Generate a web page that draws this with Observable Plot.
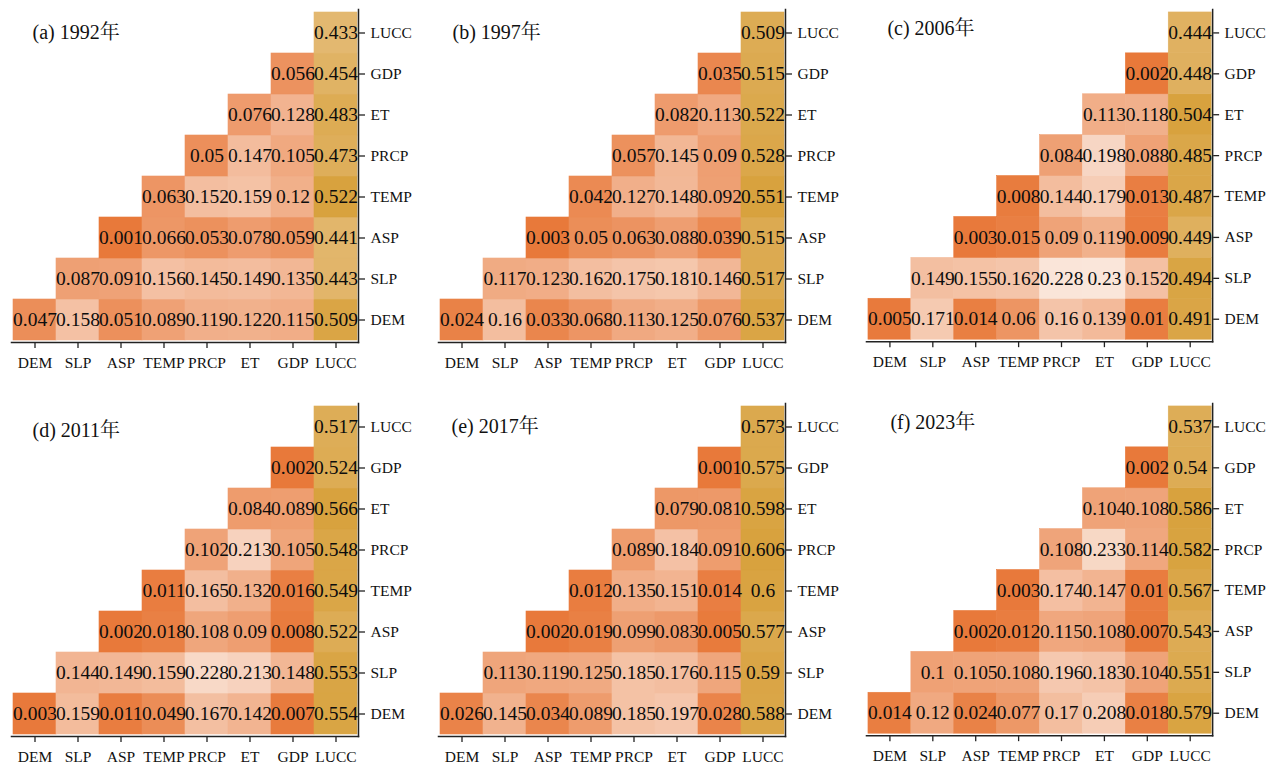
<!DOCTYPE html>
<html>
<head>
<meta charset="utf-8">
<script src="https://cdn.jsdelivr.net/npm/d3@7"></script>
<script src="https://cdn.jsdelivr.net/npm/@observablehq/plot@0.6"></script>
<style>
  body { margin: 0; background: #fff; }
  #wrap { position: relative; width: 1274px; height: 766px; overflow: hidden; }
  .panel { position: absolute; }
</style>
</head>
<body>
<div id="wrap"></div>
<script>
// Factor names (bottom-to-top rows, left-to-right columns)
const vars = ["DEM", "SLP", "ASP", "TEMP", "PRCP", "ET", "GDP", "LUCC"];
const years = ["1992", "1997", "2006", "2011", "2017", "2023"];
const letters = ["a", "b", "c", "d", "e", "f"];

// Each row r lists values for columns r..LUCC
const q1992 = [
  [0.047, 0.158, 0.051, 0.089, 0.119, 0.122, 0.115, 0.509],
  [0.087, 0.091, 0.156, 0.145, 0.149, 0.135, 0.443],
  [0.001, 0.066, 0.053, 0.078, 0.059, 0.441],
  [0.063, 0.152, 0.159, 0.12, 0.522],
  [0.05, 0.147, 0.105, 0.473],
  [0.076, 0.128, 0.483],
  [0.056, 0.454],
  [0.433]
];
const q1997 = [
  [0.024, 0.16, 0.033, 0.068, 0.113, 0.125, 0.076, 0.537],
  [0.117, 0.123, 0.162, 0.175, 0.181, 0.146, 0.517],
  [0.003, 0.05, 0.063, 0.088, 0.039, 0.515],
  [0.042, 0.127, 0.148, 0.092, 0.551],
  [0.057, 0.145, 0.09, 0.528],
  [0.082, 0.113, 0.522],
  [0.035, 0.515],
  [0.509]
];
const q2006 = [
  [0.005, 0.171, 0.014, 0.06, 0.16, 0.139, 0.01, 0.491],
  [0.149, 0.155, 0.162, 0.228, 0.23, 0.152, 0.494],
  [0.003, 0.015, 0.09, 0.119, 0.009, 0.449],
  [0.008, 0.144, 0.179, 0.013, 0.487],
  [0.084, 0.198, 0.088, 0.485],
  [0.113, 0.118, 0.504],
  [0.002, 0.448],
  [0.444]
];
const q2011 = [
  [0.003, 0.159, 0.011, 0.049, 0.167, 0.142, 0.007, 0.554],
  [0.144, 0.149, 0.159, 0.228, 0.213, 0.148, 0.553],
  [0.002, 0.018, 0.108, 0.09, 0.008, 0.522],
  [0.011, 0.165, 0.132, 0.016, 0.549],
  [0.102, 0.213, 0.105, 0.548],
  [0.084, 0.089, 0.566],
  [0.002, 0.524],
  [0.517]
];
const q2017 = [
  [0.026, 0.145, 0.034, 0.089, 0.185, 0.197, 0.028, 0.588],
  [0.113, 0.119, 0.125, 0.185, 0.176, 0.115, 0.59],
  [0.002, 0.019, 0.099, 0.083, 0.005, 0.577],
  [0.012, 0.135, 0.151, 0.014, 0.6],
  [0.089, 0.184, 0.091, 0.606],
  [0.079, 0.081, 0.598],
  [0.001, 0.575],
  [0.573]
];
const q2023 = [
  [0.014, 0.12, 0.024, 0.077, 0.17, 0.208, 0.018, 0.579],
  [0.1, 0.105, 0.108, 0.196, 0.183, 0.104, 0.551],
  [0.002, 0.012, 0.115, 0.108, 0.007, 0.543],
  [0.003, 0.174, 0.147, 0.01, 0.567],
  [0.108, 0.233, 0.114, 0.582],
  [0.104, 0.108, 0.586],
  [0.002, 0.54],
  [0.537]
];
const matrices = [q1992, q1997, q2006, q2011, q2017, q2023];

// Layout (not data)
const panelLeft = [0, 427, 855];
const panelTop = [0, 394];
const titleDx = [21, 14, 21, 21, 13, 24];
const titleDy = [23, 23, 19, 27, 23, 19];

const serif = "'Liberation Serif', 'Times New Roman', 'Noto Serif CJK SC', 'Noto Sans CJK SC', serif";
const wrap = document.getElementById("wrap");

matrices.forEach((m, p) => {
  const data = [];
  m.forEach((row, r) => row.forEach((v, k) => data.push({row: vars[r], col: vars[r + k], value: v})));
  const vals = data.map(d => d.value);
  const lo = d3.min(vals), hi = d3.max(vals);
  const mid = lo + 0.46 * (hi - lo);

  const chart = Plot.plot({
    width: 420,
    height: 383,
    marginLeft: 11,
    marginRight: 62,
    marginTop: 9,
    marginBottom: 41,
    style: {fontFamily: serif, background: "transparent", color: "#111"},
    x: {domain: vars, padding: 0, label: null},
    y: {domain: vars.slice().reverse(), padding: 0, label: null},
    color: {type: "linear", domain: [lo, mid, hi], range: ["#e8793a", "#fae7dc", "#d8a23e"], interpolate: "rgb"},
    marks: [
      Plot.cell(data, {x: "col", y: "row", fill: "value", stroke: "value", strokeWidth: 0.6}),
      Plot.text(data, {x: "col", y: "row", text: d => String(d.value), fontSize: 19.5, fill: "#0d0d0d", fontFamily: serif}),
      Plot.axisX({tickSize: 6, tickPadding: 8, fontSize: 15.5, stroke: "#222", strokeWidth: 1.3}),
      Plot.axisY({anchor: "right", tickSize: 6, tickPadding: 6, fontSize: 15.5, stroke: "#222", strokeWidth: 1.3}),
      Plot.frame({anchor: "bottom", stroke: "#222", strokeWidth: 1.5}),
      Plot.frame({anchor: "right", stroke: "#222", strokeWidth: 1.5}),
      Plot.text([`(${letters[p]}) ${years[p]}年`], {
        frameAnchor: "top-left", dx: titleDx[p], dy: titleDy[p],
        textAnchor: "start", lineAnchor: "middle", fontSize: 20, fill: "#111", fontFamily: serif
      })
    ]
  });
  const div = document.createElement("div");
  div.className = "panel";
  div.style.left = panelLeft[p % 3] + "px";
  div.style.top = panelTop[Math.floor(p / 3)] + "px";
  div.appendChild(chart);
  wrap.appendChild(div);
});
</script>
</body>
</html>
